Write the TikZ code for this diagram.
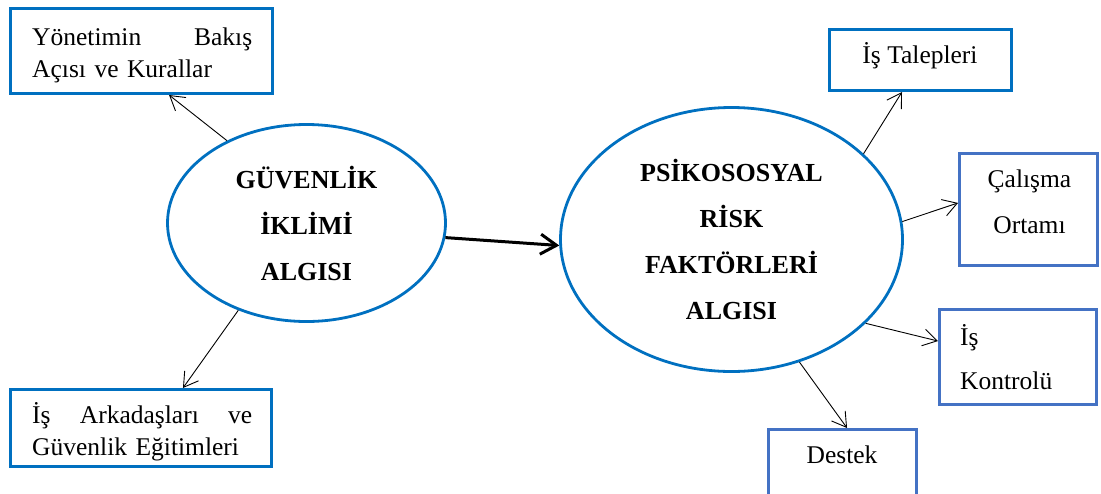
\documentclass[tikz,border=0pt]{standalone}
\usepackage{fontspec}
\setmainfont{Liberation Serif}
\usetikzlibrary{arrows.meta,calc,shapes.geometric}
\definecolor{ringblue}{RGB}{0,112,192}
\definecolor{boxblue}{RGB}{68,114,196}
\tikzset{
  frame/.style={draw=ringblue, line width=2.8pt, inner sep=0pt},
  softframe/.style={frame, draw=boxblue},
  ring/.style={ellipse, draw=ringblue, line width=2.8pt, inner sep=0pt,
    font=\fontsize{26}{46}\selectfont\bfseries, align=center},
  boxtext/.style={font=\fontsize{25.5}{32}\selectfont, inner sep=0pt},
  link/.style={-{Straight Barb[length=14pt,width=17pt]}, line width=0.9pt},
  mainlink/.style={-{Straight Barb[length=16pt,width=20pt]}, line width=3pt},
}
\begin{document}
\begin{tikzpicture}[x=1pt,y=-1pt]
\useasboundingbox (0,0) rectangle (1101,493);
\clip (0,0) rectangle (1101,493);

% the two perception ellipses
\node[ring, minimum width=278pt, minimum height=197pt] (gia) at (306.5,223)
  {GÜVENLİK\\İKLİMİ\\ALGISI};
\node[ring, minimum width=342pt, minimum height=264pt] (pra) at (731.5,239.5)
  {PSİKOSOSYAL\\RİSK\\FAKTÖRLERİ\\ALGISI};

% boxes around the safety climate (first lines are justified)
\node[frame, minimum width=262.2pt, minimum height=85.2pt] (yon) at (141.5,51) {};
\node[boxtext, text width=220pt, anchor=base west] (yont) at (32,45)
  {\hbox to 220pt{Yönetimin\hfill Bakış}\\Açısı ve Kurallar};

\node[frame, minimum width=261.2pt, minimum height=77.2pt] (ark) at (141,428) {};
\node[boxtext, text width=220pt, anchor=base west] (arkt) at (32,423)
  {\hbox to 220pt{İş\hfill Arkadaşları\hfill ve}\\Güvenlik Eğitimleri};

% boxes around the psychosocial risk factors
\node[frame, minimum width=182.2pt, minimum height=61.2pt] (tal) at (920.5,60) {};
\node[boxtext, anchor=base] (talt) at (920,63) {İş Talepleri};

\node[softframe, minimum width=138.2pt, minimum height=112.2pt] (cal) at (1028.5,209.5) {};
\node[boxtext, text width=130pt, align=center, anchor=base,
  font=\fontsize{25.5}{46}\selectfont] (calt) at (1029.5,187) {Çalışma\\Ortamı};

\node[softframe, minimum width=157.2pt, minimum height=95.2pt] (kon) at (1018,357) {};
\node[boxtext, text width=120pt, align=left, anchor=base west,
  font=\fontsize{25.5}{44}\selectfont] (kont) at (960,345) {İş\\Kontrolü};

\node[softframe, minimum width=148.2pt, minimum height=120pt, anchor=north] (des) at (842.5,428) {};
\node[boxtext, anchor=base] (dest) at (842,463) {Destek};

% connectors
\draw[mainlink] (gia.-6) -- (pra.182);
\draw[link] (gia.134.8) -- ($(yon.south west)!0.604!(yon.south east)$);
\draw[link] (gia.232) -- ($(ark.north west)!0.659!(ark.north east)$);
\draw[link] (pra.33.6) -- ($(tal.south west)!0.4!(tal.south east)$);
\draw[link] (pra.6.5) -- ($(cal.north west)!0.443!(cal.south west)$);
\draw[link] (pra.-32.4) -- ($(kon.north west)!0.337!(kon.south west)$);
\draw[link] (pra.-61.6) -- ($(des.north west)!0.53!(des.north east)$);
\end{tikzpicture}
\end{document}
